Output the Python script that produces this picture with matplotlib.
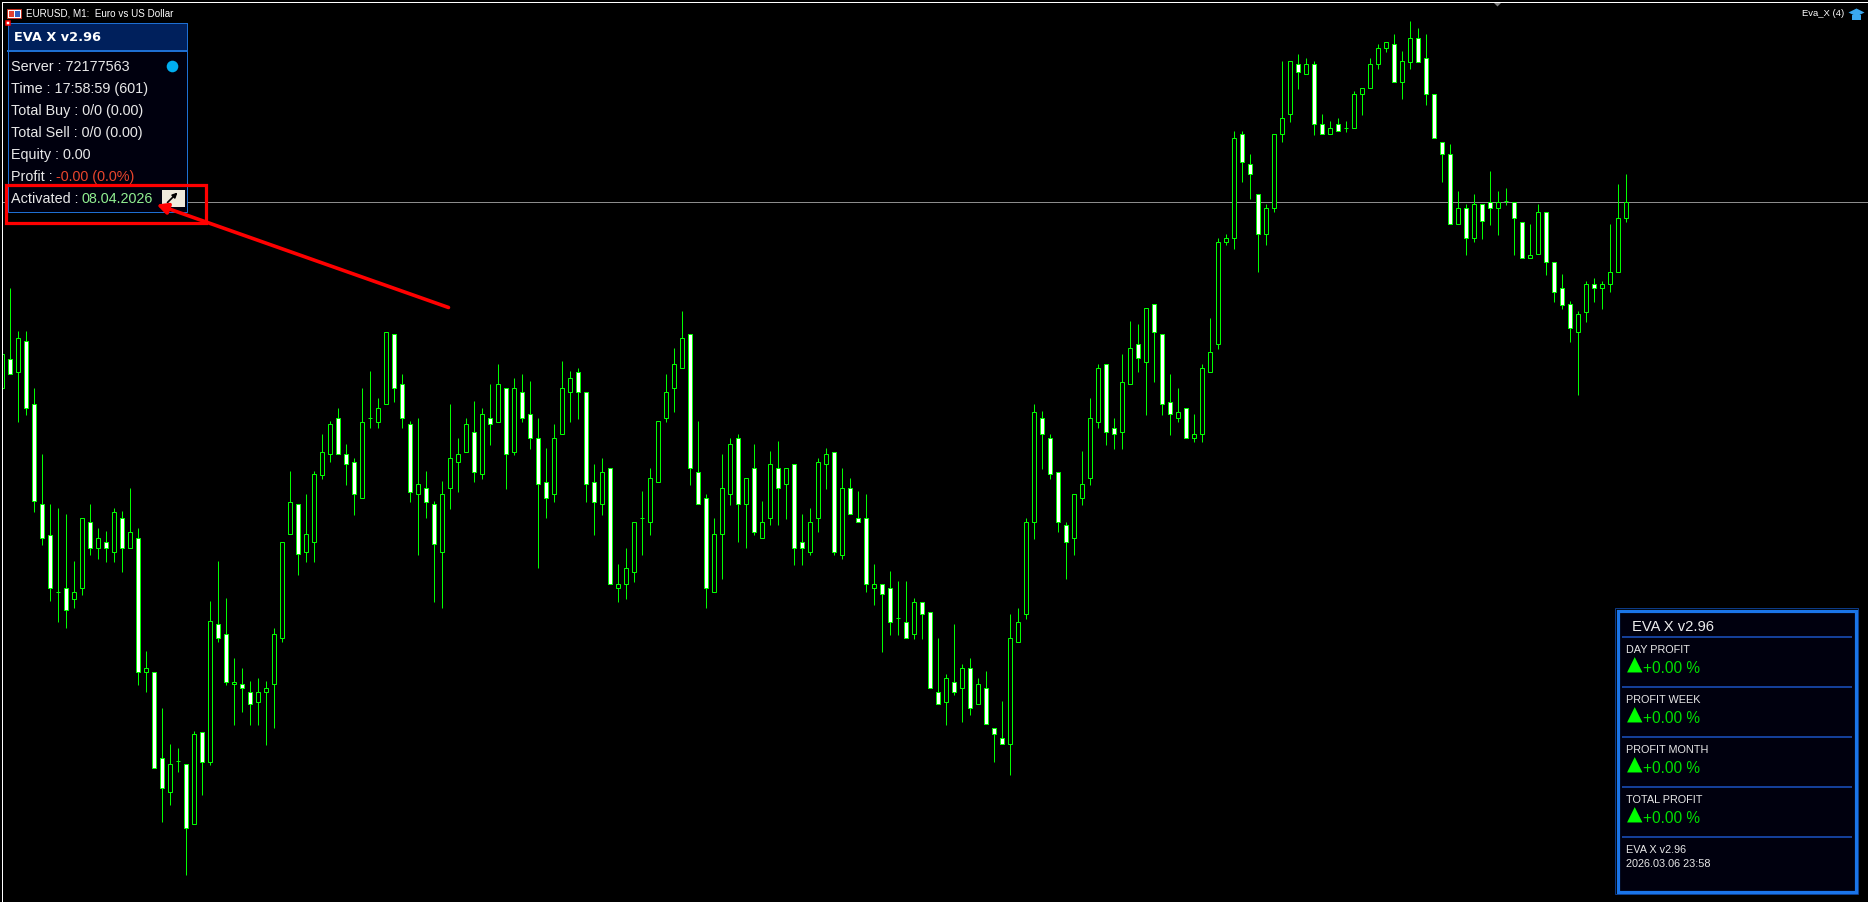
import numpy as np
import matplotlib
matplotlib.use('Agg')
import matplotlib.pyplot as plt
from matplotlib.patches import Rectangle, Polygon

W, H = 1868, 902
PX = 0.72  # one screen pixel in points at dpi 100

# candle values (chart rows, no price scale is shown)
highs = [354, 288, 331, 331, 388, 454, 504, 508, 514, 561,
         518, 504, 528, 531, 508, 511, 488, 528, 651, 672,
         708, 744, 748, 764, 731, 732, 601, 561, 598, 658,
         668, 681, 678, 681, 628, 542, 471, 504, 494, 471,
         434, 421, 408, 444, 458, 388, 371, 398, 332, 334,
         374, 421, 418, 471, 501, 481, 404, 438, 418, 401,
         408, 384, 364, 388, 378, 374, 381, 418, 448, 424,
         361, 371, 368, 392, 464, 458, 468, 564, 548, 522,
         491, 468, 421, 374, 348, 311, 334, 421, 494, 518,
         454, 438, 434, 478, 444, 501, 451, 441, 468, 464,
         514, 508, 458, 448, 452, 468, 478, 491, 494, 564,
         584, 571, 581, 581, 598, 602, 612, 638, 674, 624,
         664, 658, 678, 671, 728, 701, 614, 608, 518, 404,
         411, 434, 472, 522, 494, 451, 398, 364, 364, 418,
         354, 321, 324, 308, 304, 334, 374, 388, 408, 414,
         364, 318, 238, 234, 131, 131, 154, 194, 204, 134,
         61, 61, 54, 58, 61, 114, 121, 118, 121, 91,
         88, 58, 44, 42, 34, 51, 21, 28, 34, 94,
         142, 144, 191, 204, 194, 204, 171, 191, 188, 202,
         222, 224, 204, 212, 262, 274, 301, 311, 281, 278,
         281, 224, 184, 174]
lows = [388, 374, 422, 415, 512, 545, 601, 622, 628, 608,
        595, 555, 559, 562, 562, 572, 548, 685, 692, 768,
        822, 805, 772, 875, 824, 795, 765, 642, 685, 725,
        712, 725, 725, 745, 728, 642, 534, 575, 562, 562,
        479, 462, 454, 485, 515, 498, 428, 428, 404, 402,
        428, 502, 555, 518, 602, 608, 509, 492, 452, 482,
        479, 445, 422, 489, 455, 422, 449, 568, 518, 502,
        434, 422, 419, 502, 535, 515, 584, 602, 599, 582,
        555, 535, 482, 422, 412, 368, 485, 504, 608, 592,
        579, 505, 542, 548, 535, 538, 525, 525, 519, 565,
        565, 555, 532, 489, 555, 559, 514, 522, 592, 605,
        652, 635, 635, 638, 639, 639, 688, 704, 725, 695,
        722, 715, 704, 724, 762, 744, 775, 642, 619, 539,
        469, 479, 532, 579, 555, 505, 485, 428, 445, 449,
        449, 384, 372, 415, 382, 415, 435, 422, 438, 442,
        442, 372, 349, 245, 249, 182, 199, 272, 245, 212,
        142, 122, 89, 74, 135, 134, 134, 131, 132, 128,
        115, 88, 69, 52, 82, 99, 69, 62, 105, 138,
        182, 224, 224, 255, 242, 239, 225, 235, 205, 255,
        258, 258, 254, 275, 302, 309, 342, 395, 322, 302,
        309, 292, 272, 222]
opens = [388, 359, 372, 341, 404, 504, 535, 592, 588, 599,
         588, 522, 548, 542, 552, 518, 548, 538, 672, 672,
         758, 792, 761, 764, 824, 732, 762, 624, 634, 684,
         684, 692, 702, 692, 684, 638, 534, 504, 552, 542,
         475, 454, 418, 454, 462, 498, 418, 422, 404, 334,
         384, 424, 494, 488, 504, 552, 488, 462, 452, 432,
         474, 418, 422, 388, 452, 392, 414, 438, 482, 494,
         434, 392, 372, 392, 482, 504, 468, 588, 584, 572,
         518, 522, 482, 418, 388, 368, 334, 472, 498, 592,
         534, 494, 438, 504, 468, 538, 518, 468, 484, 464,
         542, 552, 518, 464, 452, 555, 488, 518, 518, 588,
         584, 588, 618, 622, 634, 602, 612, 692, 702, 682,
         688, 668, 704, 688, 728, 738, 744, 642, 614, 522,
         418, 438, 472, 525, 538, 498, 478, 422, 364, 428,
         432, 384, 344, 362, 304, 334, 402, 418, 408, 438,
         434, 372, 344, 242, 238, 134, 164, 194, 234, 208,
         134, 114, 64, 74, 64, 124, 134, 124, 128, 128,
         94, 88, 64, 48, 44, 82, 62, 38, 58, 94,
         142, 154, 224, 208, 238, 204, 202, 208, 201, 202,
         222, 258, 254, 212, 262, 288, 304, 332, 312, 284,
         288, 284, 272, 218]
closes = [354, 374, 338, 408, 501, 538, 588, 592, 610, 592,
          518, 548, 538, 548, 512, 548, 532, 672, 668, 768,
          788, 764, 761, 828, 734, 762, 621, 638, 682, 682,
          688, 704, 692, 688, 634, 542, 502, 554, 534, 474,
          452, 424, 454, 464, 494, 422, 418, 408, 332, 388,
          418, 492, 484, 502, 544, 494, 458, 454, 424, 472,
          414, 424, 384, 454, 388, 418, 438, 484, 498, 438,
          388, 378, 392, 484, 502, 472, 584, 584, 568, 522,
          518, 478, 421, 392, 364, 338, 468, 504, 588, 534,
          488, 444, 504, 478, 532, 522, 464, 488, 468, 548,
          548, 522, 462, 454, 552, 488, 514, 522, 584, 584,
          594, 622, 618, 638, 602, 614, 688, 704, 678, 692,
          668, 708, 684, 724, 734, 744, 638, 622, 522, 412,
          434, 474, 522, 542, 494, 484, 418, 368, 432, 434,
          382, 348, 358, 308, 332, 404, 414, 412, 438, 434,
          368, 352, 242, 238, 138, 162, 174, 234, 208, 134,
          118, 61, 72, 64, 124, 134, 128, 131, 128, 94,
          88, 64, 48, 42, 82, 61, 38, 62, 94, 138,
          154, 224, 208, 238, 204, 221, 208, 202, 201, 218,
          258, 255, 212, 262, 292, 305, 328, 314, 284, 288,
          284, 272, 218, 202]
price_line = 202

panel_rows = ['Server : 72177563', 'Time : 17:58:59 (601)', 'Total Buy : 0/0 (0.00)',
              'Total Sell : 0/0 (0.00)', 'Equity : 0.00', 'Profit : ', 'Activated : ']
profit_labels = ['DAY PROFIT', 'PROFIT WEEK', 'PROFIT MONTH', 'TOTAL PROFIT']
profit_value = '+0.00 %'

fig = plt.figure(figsize=(W / 100, H / 100), dpi=100, facecolor='black')

# ── candles ───────────────────────────────────────────────────────────────────
ax = fig.add_axes([3 / W, 0, (W - 3) / W, (H - 2) / H])
ax.set_facecolor('black')
ax.axis('off')
x = np.arange(len(highs))
ax.set_xlim((3 - 2) / 8, (W - 2) / 8)
ax.set_ylim(H, 2)
ax.axhline(price_line, color='#8c8c8c', lw=PX, zorder=1)
ax.vlines(x, highs, lows, color='#00ff00', lw=PX, zorder=2)
o = np.array(opens)
c = np.array(closes)
face = ['white' if cl > op else 'black' for op, cl in zip(o, c)]
ax.bar(x, c - o, bottom=o, width=0.5, color=face, edgecolor='#00ff00', linewidth=PX, zorder=3)

# ── overlay in screen pixels ──────────────────────────────────────────────────
ov = fig.add_axes([0, 0, 1, 1])
ov.set_xlim(0.5, W + 0.5)
ov.set_ylim(H - 0.5, -0.5)
ov.axis('off')
ov.patch.set_alpha(0)

# chart frame
ov.plot([2.5, W + 1], [1.5, 1.5], color='white', lw=PX)
ov.plot([2.5, 2.5], [1.5, H], color='white', lw=PX)
ov.add_patch(Polygon([[1494, 2], [1502, 2], [1498, 6]], color='#808080', lw=0))

# chart title
ARIAL = ['Liberation Sans', 'DejaVu Sans']
ov.add_patch(Rectangle((7.5, 8.5), 14, 9, fc='white', ec='#c03020', lw=PX))
ov.add_patch(Rectangle((9, 10), 5, 6, fc='#e04030', lw=0))
ov.add_patch(Rectangle((15, 10), 5, 6, fc='#3060c0', lw=0))
ov.text(27, 12.5, 'EURUSD, M1:  Euro vs US Dollar', color='white', fontsize=7.1, family=ARIAL,
        va='center', ha='left')
ov.text(1845, 12.5, 'Eva_X (4)', color='white', fontsize=6.8, family=ARIAL, va='center', ha='right')
ov.add_patch(Polygon([[1849, 12], [1857, 8], [1865, 12], [1857, 16]], color='#3aa8f0', lw=0))
ov.add_patch(Rectangle((1852, 14), 9, 5, color='#3aa8f0', lw=0))

# top-left panel
ov.add_patch(Rectangle((8.5, 22.5), 179, 189, fc='#00000e', ec='#1e6fd2', lw=PX))
ov.add_patch(Rectangle((8.5, 22.5), 179, 28, fc='#00205c', ec='#1e6fd2', lw=PX))
ov.plot([8.5, 187.5], [50.5, 50.5], color='#1e6fd2', lw=PX * 2)
ov.add_patch(Rectangle((6.5, 20.5), 4, 4, fc='white', ec='#ff0000', lw=PX * 1.5))
ov.text(14, 37, 'EVA X v2.96', color='white', fontsize=9.3, family='DejaVu Sans', weight='bold',
        va='center', ha='left')
for i, row in enumerate(panel_rows):
    ov.text(11.5, 70.5 + 22 * i, row, color='#e8e8e8', fontsize=10.4, family=ARIAL, va='baseline', ha='left')
ov.text(57, 180.5, '-0.00 (0.0%)', color='#e8452c', fontsize=10.4, family=ARIAL, va='baseline', ha='left')
ov.text(82, 202.5, '08.04.2026', color='#90ee90', fontsize=10.4, family=ARIAL, va='baseline', ha='left')
ov.scatter([172.5], [65.5], s=70, color='#00aef0', lw=0, zorder=4)

# small link button
ov.add_patch(Rectangle((162, 189), 23, 17, fc='#efeadc', ec='none'))
ov.annotate('', xy=(178, 192), xytext=(168, 202),
            arrowprops=dict(arrowstyle='-|>', color='black', lw=1.2, shrinkA=0, shrinkB=0, mutation_scale=7))

# red callout
ov.add_patch(Rectangle((6.5, 184), 200, 38, fc='none', ec='#ff0000', lw=PX * 3.2, zorder=5))
ov.annotate('', xy=(157, 204), xytext=(449, 307),
            arrowprops=dict(arrowstyle='-|>', color='#ff0000', lw=PX * 3.6, shrinkA=0, shrinkB=0,
                            mutation_scale=16), zorder=6)

# bottom-right panel
ov.add_patch(Rectangle((1615.5, 607.5), 243, 286, fc='none', ec='#0c3a86', lw=PX, zorder=3))
ov.add_patch(Rectangle((1618, 610), 238, 281, fc='#00000e', ec='#1a75e8', lw=PX * 3.2, zorder=3))
ov.text(1633, 630.5, 'EVA X v2.96', color='#ececec', fontsize=10.6, family=ARIAL, va='baseline', ha='left', zorder=4)
for sep_y in [636.5, 686.5, 736.5, 786.5, 836.5]:
    ov.plot([1623, 1851], [sep_y, sep_y], color='#143f98', lw=PX * 2, zorder=4)
for i, label in enumerate(profit_labels):
    ov.text(1627, 652.5 + 50 * i, label, color='#e8e8e8', fontsize=7.8, family=ARIAL, va='baseline', ha='left', zorder=4)
    ov.text(1635, 665 + 50 * i, '▲', color='#00ff00', fontsize=14.5, family='DejaVu Sans',
            va='center', ha='center', zorder=4)
    ov.text(1643.5, 672.5 + 50 * i, profit_value, color='#00e000', fontsize=11.2, family=ARIAL,
            va='baseline', ha='left', zorder=4)
ov.text(1627, 852.5, 'EVA X v2.96', color='#e8e8e8', fontsize=7.8, family=ARIAL, va='baseline', ha='left', zorder=4)
ov.text(1627, 866.5, '2026.03.06 23:58', color='#e8e8e8', fontsize=7.8, family=ARIAL, va='baseline', ha='left', zorder=4)

fig.savefig('out.png', dpi=100, facecolor='black')
